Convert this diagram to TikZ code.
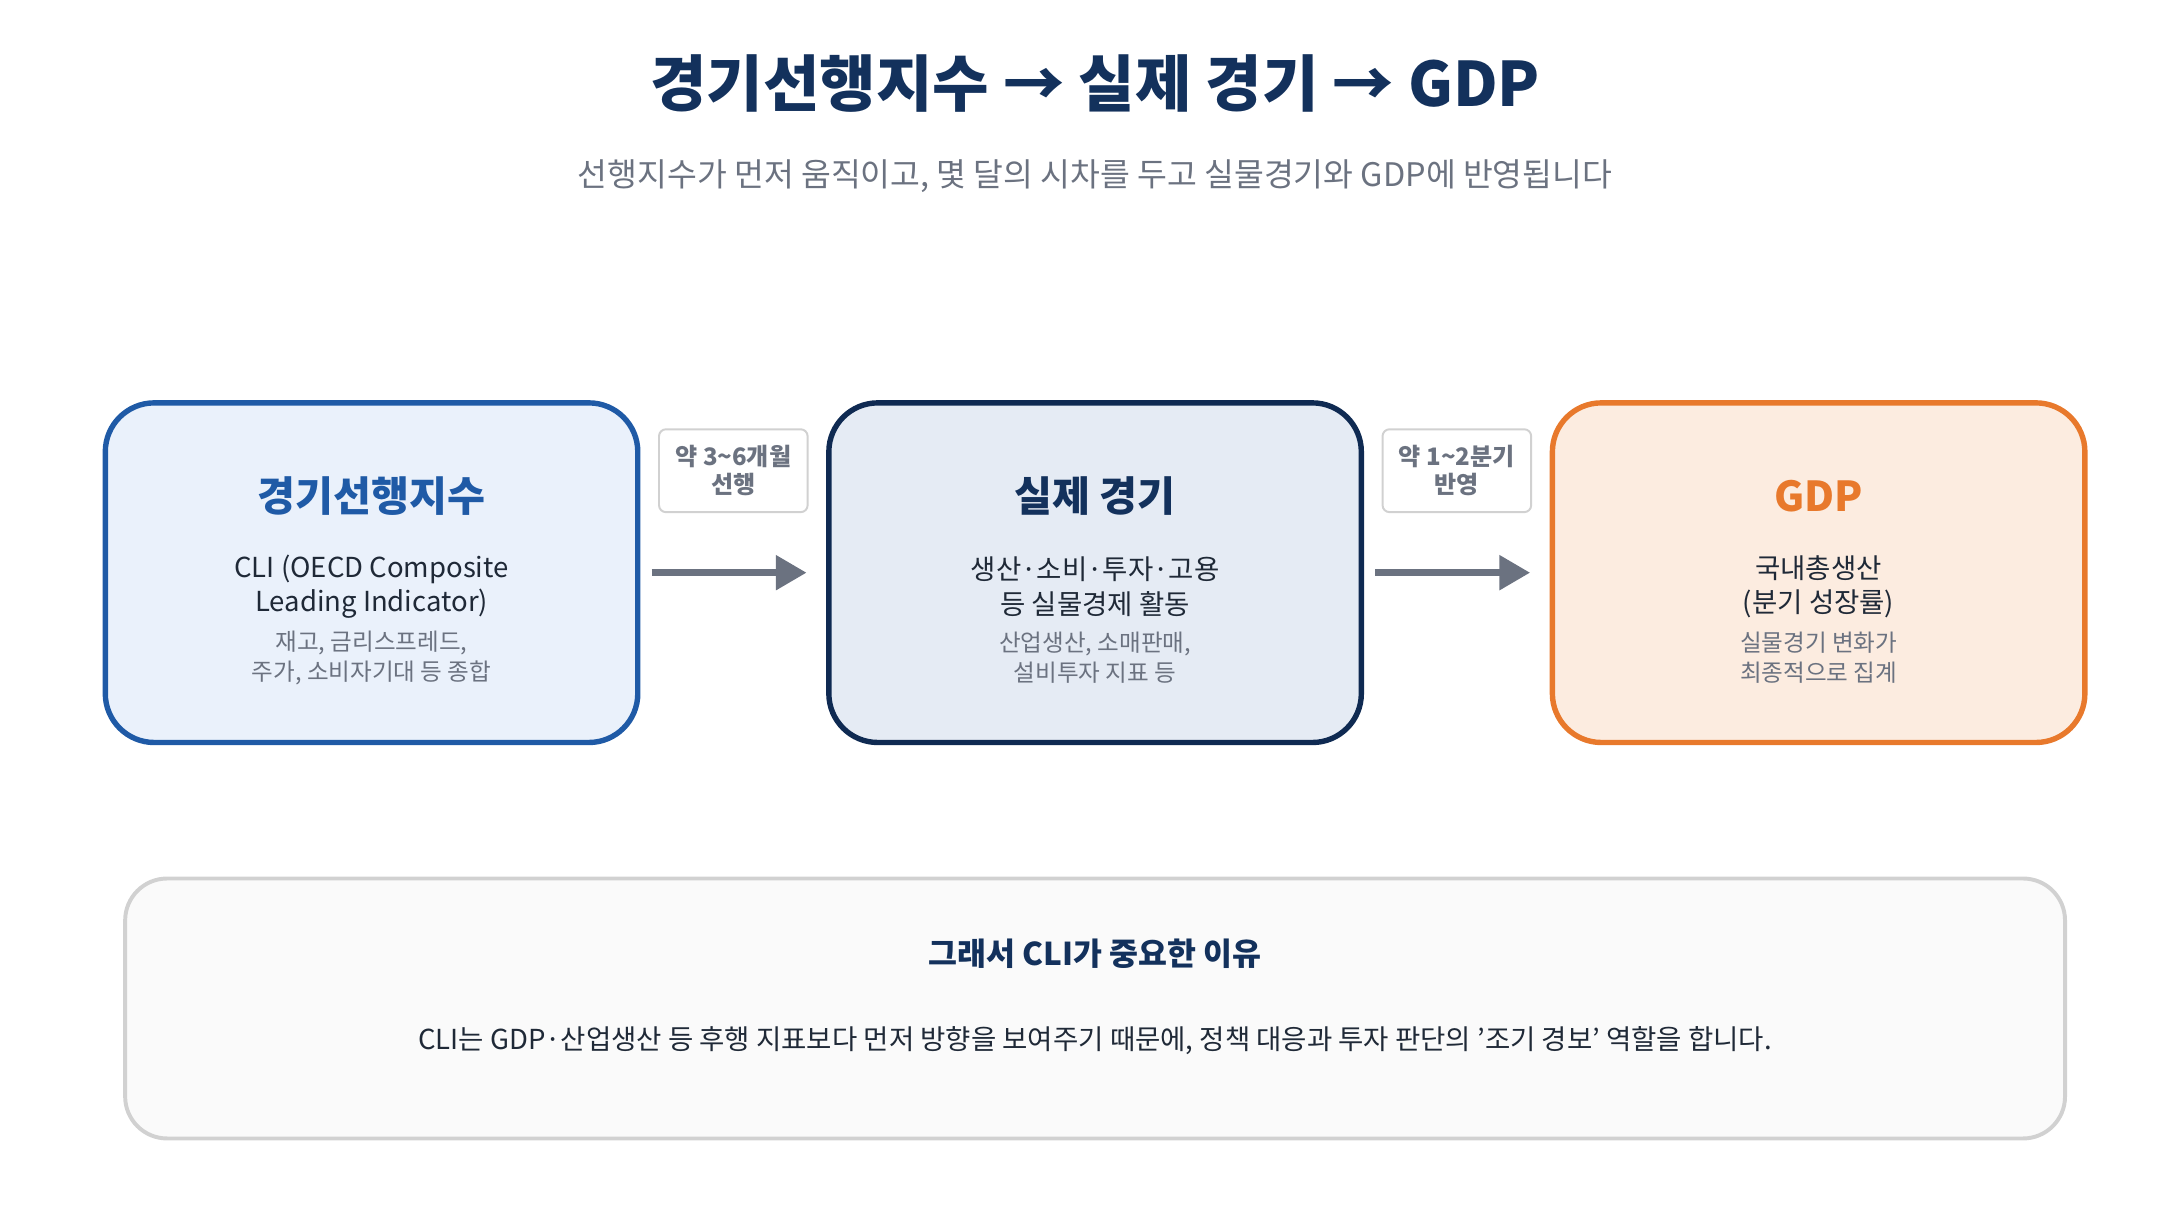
\documentclass[tikz,border=0pt]{standalone}
\usepackage{fontspec}
\setmainfont{Noto Sans CJK KR}
\usetikzlibrary{positioning,arrows.meta}
\definecolor{navy}{HTML}{13315C}
\definecolor{cliblue}{HTML}{1F5AA6}
\definecolor{clifill}{HTML}{EAF1FB}
\definecolor{ecoline}{HTML}{0F2A52}
\definecolor{ecofill}{HTML}{E5EBF4}
\definecolor{gdporange}{HTML}{E8792C}
\definecolor{gdpfill}{HTML}{FCECE0}
\definecolor{txtgray}{HTML}{6B7280}
\definecolor{darktxt}{HTML}{1F2937}
\begin{document}
\begin{tikzpicture}[x=0.01cm,y=-0.01cm]
    \tikzset{stage/.style = {draw,line width=1.1pt,rounded corners=0.35cm,minimum width=3.81cm,minimum height=2.43cm}}
    \tikzset{lag/.style = {draw=black!18,fill=white,line width=0.4pt,rounded corners=0.05cm,minimum width=1.03cm,minimum height=0.54cm,align=center,font=\fontsize{4.9}{5.6}\selectfont\bfseries,text=txtgray}}
    \tikzset{flow/.style = {-{Triangle[length=0.22cm,width=0.24cm]},line width=1.4pt,draw=txtgray}}
    \tikzset{main/.style = {align=center,font=\fontsize{5.6}{7}\selectfont,text=darktxt}}
    \tikzset{note/.style = {align=center,font=\fontsize{4.8}{6}\selectfont,text=txtgray}}
    \useasboundingbox (0,0) rectangle (1560,873);
    \node[font=\fontsize{12.5}{14}\selectfont\bfseries,text=navy] (title) at (784,60) {경기선행지수 → 실제 경기 → GDP};
    \node[font=\fontsize{6.6}{8}\selectfont,text=txtgray] (sub) at (784,126) {선행지수가 먼저 움직이고, 몇 달의 시차를 두고 실물경기와 GDP에 반영됩니다};
    \node[stage,draw=cliblue,fill=clifill] (cli) at (266,410) {};
    \node[stage,draw=ecoline,fill=ecofill] (eco) at (784,410) {};
    \node[stage,draw=gdporange,fill=gdpfill] (gdp) at (1302,410) {};
    \node[font=\fontsize{8.4}{10}\selectfont\bfseries,text=cliblue] (clit) at (266,355) {경기선행지수};
    \node[main] (clib) at (266,420) {CLI (OECD Composite\\Leading Indicator)};
    \node[note] (clin) at (266,471) {재고, 금리스프레드,\\주가, 소비자기대 등 종합};
    \node[font=\fontsize{8.4}{10}\selectfont\bfseries,text=navy] (ecot) at (784,355) {실제 경기};
    \node[main] (ecob) at (784,420) {생산·소비·투자·고용\\등 실물경제 활동};
    \node[note] (econ) at (784,471) {산업생산, 소매판매,\\설비투자 지표 등};
    \node[font=\fontsize{8.4}{10}\selectfont\bfseries,text=gdporange] (gdpt) at (1302,355) {GDP};
    \node[main] (gdpb) at (1302,420) {국내총생산\\(분기 성장률)};
    \node[note] (gdpn) at (1302,471) {실물경기 변화가\\최종적으로 집계};
    \node[lag] (lag1) at (525,337) {약 3\textasciitilde6개월\\선행};
    \node[lag] (lag2) at (1043,337) {약 1\textasciitilde2분기\\반영};
    \draw[flow] ([xshift=0.08cm]cli.east) to ([xshift=-0.14cm]eco.west);
    \draw[flow] ([xshift=0.08cm]eco.east) to ([xshift=-0.14cm]gdp.west);
    \node[draw=black!18,fill=black!2,line width=0.8pt,rounded corners=0.3cm,minimum width=13.88cm,minimum height=1.86cm] (why) at (784,722) {};
    \node[font=\fontsize{6.4}{8}\selectfont\bfseries,text=navy] (whyt) at (784,683) {그래서 CLI가 중요한 이유};
    \node[font=\fontsize{5.6}{7}\selectfont,text=darktxt] (whyb) at (784,745) {CLI는 GDP·산업생산 등 후행 지표보다 먼저 방향을 보여주기 때문에, 정책 대응과 투자 판단의 '조기 경보' 역할을 합니다.};
\end{tikzpicture}
\end{document}
